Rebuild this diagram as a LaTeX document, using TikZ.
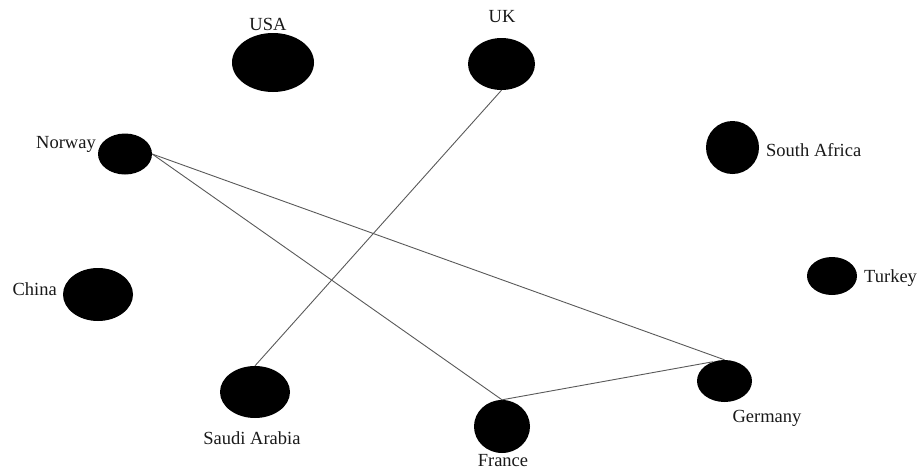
\documentclass[tikz,border=0pt]{standalone}
\usepackage{fontspec}
\setmainfont{Liberation Serif}
\usetikzlibrary{shapes.geometric}
\begin{document}
\begin{tikzpicture}[x=1pt,y=-1pt,
  country/.style={ellipse,fill=black,draw=none,inner sep=0pt},
  lbl/.style={font=\fontsize{18.5}{20}\selectfont,inner sep=0pt,text=black!90},
  link/.style={draw=black!65,line width=0.9pt}]
\useasboundingbox (0,0) rectangle (921,472);
% countries
\node[country,minimum width=82pt,minimum height=59pt] (usa) at (273,62.5) {};
\node[country,minimum width=67pt,minimum height=52pt] (uk) at (501.5,64) {};
\node[country,minimum width=54pt,minimum height=41pt] (norway) at (125,154) {};
\node[country,minimum width=53pt,minimum height=53pt] (safrica) at (732.5,147.5) {};
\node[country,minimum width=70pt,minimum height=53pt] (china) at (98,294.5) {};
\node[country,minimum width=50pt,minimum height=38pt] (turkey) at (832,276) {};
\node[country,minimum width=70pt,minimum height=52pt] (saudi) at (255,392) {};
\node[country,minimum width=55pt,minimum height=42pt] (germany) at (724.5,381) {};
\node[country,minimum width=56pt,minimum height=53pt] (france) at (502,426.5) {};
% labels
\node[lbl] (lusa) at (268,24) {USA};
\node[lbl] (luk) at (502,17) {UK};
\node[lbl,anchor=east] (lnorway) at (96,144) {Norway};
\node[lbl,anchor=west] (lsafrica) at (766,150) {South Africa};
\node[lbl,anchor=east] (lchina) at (57,289) {China};
\node[lbl,anchor=west] (lturkey) at (864,278) {Turkey};
\node[lbl] (lsaudi) at (252,438) {Saudi Arabia};
\node[lbl] (lgermany) at (767,418) {Germany};
\node[lbl] (lfrance) at (503,461) {France};
% links
\draw[link] (norway.east) -- (france.north);
\draw[link] (norway.east) -- (germany.north);
\draw[link] (uk.south) -- (saudi.north);
\draw[link] (france.north) -- (germany.121);
\end{tikzpicture}
\end{document}
